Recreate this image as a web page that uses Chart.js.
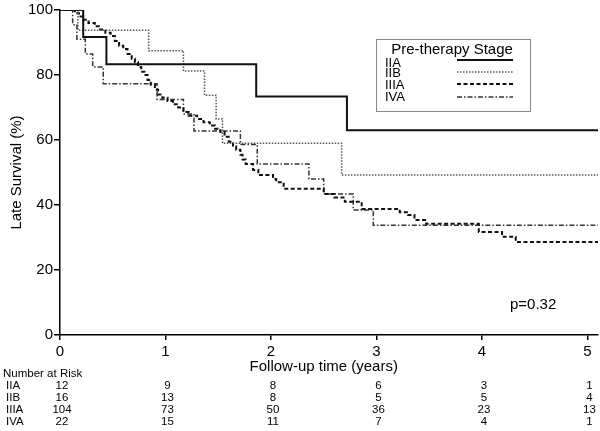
<!DOCTYPE html>
<html>
<head>
<meta charset="utf-8">
<script src="https://cdn.jsdelivr.net/npm/chart.js@4/dist/chart.umd.min.js"></script>
<style>
  html, body { margin: 0; padding: 0; background: #fff; }
  #wrap { width: 600px; height: 431px; }
</style>
</head>
<body>
<div id="wrap"><canvas id="km"></canvas></div>
<script>
// Kaplan-Meier steps (years, % surviving)
const stages = ["IIA", "IIB", "IIIA", "IVA"];

const iiaTimes = [0, 0.22, 0.44, 1.86, 2.72, 5.1];
const iiaSurv  = [100, 91.7, 83.3, 73.4, 63, 63];

const iibTimes = [0, 0.17, 0.84, 1.17, 1.37, 1.48, 1.54, 2.67, 5.1];
const iibSurv  = [100, 93.8, 87.5, 81.2, 73.8, 66.5, 59, 49.2, 49.2];

const iiiaTimes = [0, 0.14, 0.18, 0.22, 0.27, 0.33, 0.38, 0.43, 0.48, 0.52, 0.56, 0.6, 0.64, 0.68, 0.71,
  0.74, 0.77, 0.8, 0.83, 0.86, 0.9, 0.93, 0.97, 1.02, 1.07, 1.12, 1.17, 1.22, 1.3, 1.36, 1.42, 1.47,
  1.52, 1.56, 1.6, 1.64, 1.67, 1.71, 1.73, 1.76, 1.83, 1.88, 2.02, 2.05, 2.12, 2.5, 2.6, 2.7, 2.86,
  3.22, 3.3, 3.36, 3.47, 3.97, 4.19, 4.32, 5.1];
const iiiaSurv = [100, 99, 98, 97, 96, 95, 94, 93, 92, 90.5, 89, 88, 86.5, 85, 84,
  82.5, 81, 80, 78.5, 77, 75.5, 74, 73, 72, 71, 70, 68.6, 67.5, 66.5, 65.5, 64.5, 63.5,
  62.5, 61, 59.5, 58, 57, 55.5, 54, 52.6, 50.8, 49.2, 48, 47, 45, 43.4, 42.3, 41, 38.8,
  37.8, 36.9, 35.4, 34.2, 31.7, 30.2, 28.6, 28.6];

const ivaTimes = [0, 0.12, 0.16, 0.24, 0.31, 0.41, 0.92, 1.17, 1.27, 1.71, 1.87, 2.36, 2.5, 2.78, 2.97, 5.1];
const ivaSurv  = [100, 95.5, 91, 86.5, 82.5, 77.3, 72.5, 68, 62.8, 58.6, 52.6, 48, 43.4, 38.5, 33.8, 33.8];

// number at risk table
const riskTimes = [0, 1, 2, 3, 4, 5];
const riskIIA  = [12, 9, 8, 6, 3, 1];
const riskIIB  = [16, 13, 8, 5, 5, 4];
const riskIIIA = [104, 73, 50, 36, 23, 13];
const riskIVA  = [22, 15, 11, 7, 4, 1];

const xTicks = [0, 1, 2, 3, 4, 5];
const yTicks = [0, 20, 40, 60, 80, 100];
const pValue = "p=0.32";

const FONT = "'Liberation Sans', Arial, sans-serif";
Chart.defaults.font.family = FONT;
Chart.defaults.color = '#000';

function pts(t, s) { return t.map((v, i) => ({x: v, y: s[i]})); }

const styles = [
  {color: '#111', width: 2,   dash: []},
  {color: '#555', width: 1.5, dash: [1.5, 1.5]},
  {color: '#111', width: 2,   dash: [4, 2.5]},
  {color: '#333', width: 1.5, dash: [5, 2, 1.5, 2]}
];
const series = [pts(iiaTimes, iiaSurv), pts(iibTimes, iibSurv), pts(iiiaTimes, iiiaSurv), pts(ivaTimes, ivaSurv)];
const riskRows = [riskIIA, riskIIB, riskIIIA, riskIVA];

const extras = {
  id: 'extras',
  afterDraw(chart) {
    const ctx = chart.ctx;
    const xs = chart.scales.x;
    ctx.save();
    ctx.fillStyle = '#000';
    ctx.textBaseline = 'middle';

    // legend box
    ctx.strokeStyle = '#888';
    ctx.lineWidth = 1;
    ctx.strokeRect(376.5, 39.5, 154, 72);
    ctx.font = '15px ' + FONT;
    ctx.textAlign = 'center';
    ctx.fillText('Pre-therapy Stage', 452, 50);
    const labY = [63, 73.5, 85, 97];
    const lineY = [60, 72, 84, 97];
    ctx.font = '13px ' + FONT;
    ctx.textAlign = 'left';
    stages.forEach((s, i) => {
      ctx.fillText(s, 385, labY[i]);
      ctx.beginPath();
      ctx.strokeStyle = styles[i].color;
      ctx.lineWidth = styles[i].width;
      ctx.setLineDash(styles[i].dash);
      ctx.moveTo(457, lineY[i]);
      ctx.lineTo(513, lineY[i]);
      ctx.stroke();
    });
    ctx.setLineDash([]);

    // p value
    ctx.font = '15px ' + FONT;
    ctx.fillText(pValue, 510, 305);

    // x title, centred on the 0-5 span
    ctx.textAlign = 'center';
    const cx = (xs.getPixelForValue(0) + xs.getPixelForValue(5)) / 2;
    ctx.fillText('Follow-up time (years)', cx, 367);

    // number at risk
    ctx.font = '11.5px ' + FONT;
    ctx.textAlign = 'left';
    ctx.fillText('Number at Risk', 3, 374);
    const rowY = [386, 398, 410, 422];
    stages.forEach((s, i) => {
      ctx.textAlign = 'left';
      ctx.fillText(s, 6, rowY[i]);
      ctx.textAlign = 'center';
      riskRows[i].forEach((n, j) => {
        ctx.fillText(String(n), xs.getPixelForValue(riskTimes[j]) + 2, rowY[i]);
      });
    });
    ctx.restore();
  }
};

new Chart(document.getElementById('km'), {
  type: 'line',
  data: {
    datasets: series.map((d, i) => ({
      label: stages[i],
      data: d,
      stepped: true,
      borderColor: styles[i].color,
      borderWidth: styles[i].width,
      borderDash: styles[i].dash,
      pointRadius: 0,
      fill: false
    }))
  },
  options: {
    responsive: true,
    maintainAspectRatio: false,
    animation: false,
    devicePixelRatio: 1,
    layout: {padding: {top: 7, right: 2, bottom: 62, left: 0}},
    plugins: {legend: {display: false}, tooltip: {enabled: false}},
    scales: {
      x: {
        type: 'linear',
        min: 0,
        max: 5.1,
        afterBuildTicks: s => { s.ticks = xTicks.map(v => ({value: v})); },
        afterFit: s => { s.height = 34; },
        border: {color: '#000', width: 1.5},
        grid: {drawOnChartArea: false, color: '#000', lineWidth: 1.5, tickLength: 5},
        ticks: {font: {size: 15}, color: '#000', padding: 3}
      },
      y: {
        min: 0,
        max: 100,
        afterBuildTicks: s => { s.ticks = yTicks.map(v => ({value: v})); },
        afterFit: s => { s.width = 60; },
        border: {color: '#000', width: 1.5},
        grid: {drawOnChartArea: false, color: '#000', lineWidth: 1.5, tickLength: 6},
        ticks: {font: {size: 15}, color: '#000', padding: 1},
        title: {display: true, text: 'Late Survival (%)', font: {size: 15}, color: '#000', padding: {top: 8, bottom: 0}}
      }
    }
  },
  plugins: [extras]
});
</script>
</body>
</html>
